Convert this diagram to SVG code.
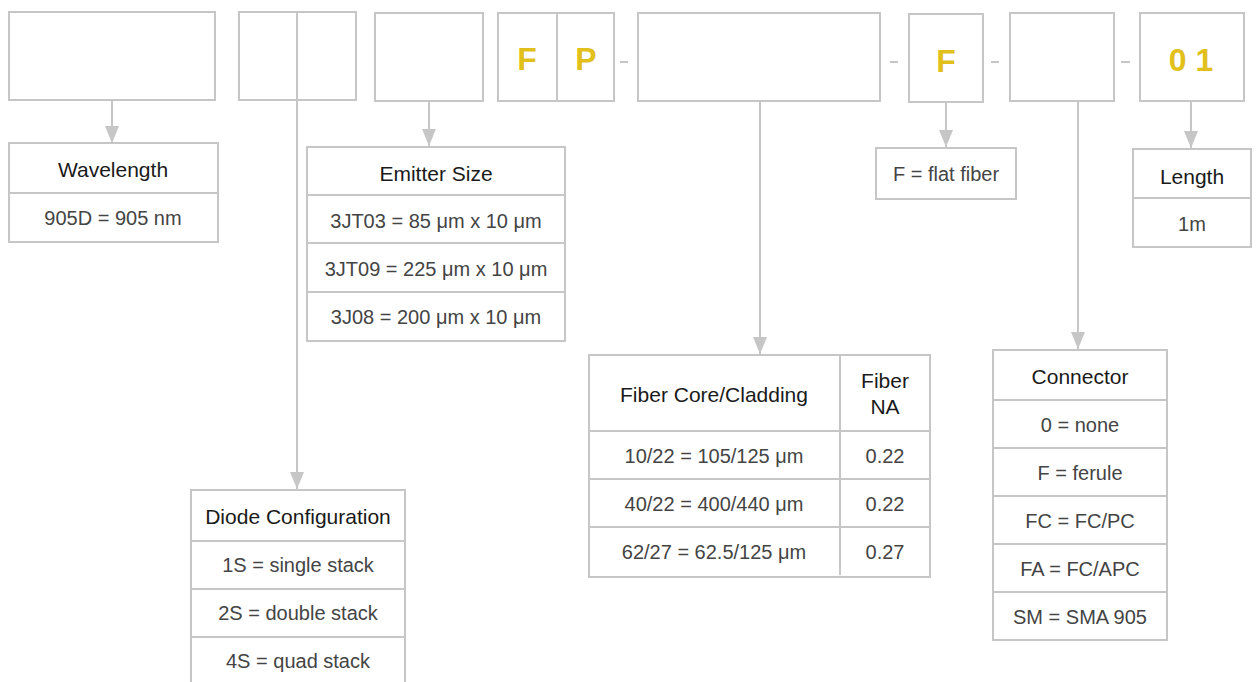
<svg xmlns="http://www.w3.org/2000/svg" width="1258" height="682" viewBox="0 0 1258 682">
<defs>
<style>
.b{fill:#fff;stroke:#c6c6c6;stroke-width:2}
.d{stroke:#c6c6c6;stroke-width:2;fill:none}
.h{font-family:"Liberation Sans",Arial,sans-serif;font-size:21px;fill:#1a1a1a;text-anchor:middle}
.v{font-family:"Liberation Sans",Arial,sans-serif;font-size:20px;fill:#444;text-anchor:middle}
.y{font-family:"Liberation Sans",Arial,sans-serif;font-size:32px;font-weight:bold;fill:#e2c01c;text-anchor:middle}
.c{stroke:#c6c6c6;stroke-width:2;fill:none}
</style>
<marker id="ah" markerUnits="userSpaceOnUse" markerWidth="18" markerHeight="16" refX="17" refY="8" orient="auto" viewBox="0 0 18 16">
<path d="M0,1 L17,8 L0,15 Z" fill="#c6c6c6"/>
</marker>
</defs>
<rect width="1258" height="682" fill="#fff"/>

<g id="code-boxes">
<g id="box-wavelength"><rect class="b" x="9" y="12" width="206" height="88"/></g>
<g id="box-diode"><rect class="b" x="239" y="12" width="117" height="88"/><line class="d" x1="297" y1="12" x2="297" y2="100"/></g>
<g id="box-emitter"><rect class="b" x="375" y="13" width="108" height="88"/></g>
<g id="box-fp"><rect class="b" x="498" y="13" width="116" height="88"/><line class="d" x1="557" y1="13" x2="557" y2="101"/>
<text class="y" x="527" y="70">F</text><text class="y" x="586" y="70">P</text></g>
<g id="box-fiber"><rect class="b" x="638" y="13" width="242" height="88"/></g>
<g id="box-f"><rect class="b" x="909" y="14" width="74" height="88"/><text class="y" x="946" y="72">F</text></g>
<g id="box-connector"><rect class="b" x="1010" y="13" width="104" height="88"/></g>
<g id="box-length"><rect class="b" x="1140" y="13" width="104" height="88"/><text class="y" x="1191" y="71">0 1</text></g>
<g id="dashes">
<line class="d" x1="620" y1="62" x2="628" y2="62"/>
<line class="d" x1="890" y1="62" x2="898" y2="62"/>
<line class="d" x1="991" y1="62" x2="999" y2="62"/>
<line class="d" x1="1121" y1="62" x2="1130" y2="62"/>
</g>
</g>

<g id="connectors">
<line class="c" x1="112" y1="100" x2="112" y2="143" marker-end="url(#ah)"/>
<line class="c" x1="297" y1="100" x2="297" y2="489" marker-end="url(#ah)"/>
<line class="c" x1="429" y1="101" x2="429" y2="146" marker-end="url(#ah)"/>
<line class="c" x1="760" y1="101" x2="760" y2="354" marker-end="url(#ah)"/>
<line class="c" x1="946" y1="102" x2="946" y2="147" marker-end="url(#ah)"/>
<line class="c" x1="1078" y1="101" x2="1078" y2="349" marker-end="url(#ah)"/>
<line class="c" x1="1191" y1="101" x2="1191" y2="148" marker-end="url(#ah)"/>
</g>

<g id="table-wavelength">
<rect class="b" x="9" y="143" width="209" height="99"/>
<line class="d" x1="9" y1="193" x2="218" y2="193"/>
<text class="h" x="113" y="177">Wavelength</text>
<text class="v" x="113" y="225">905D = 905 nm</text>
</g>

<g id="table-emitter">
<rect class="b" x="307" y="147" width="258" height="194"/>
<line class="d" x1="307" y1="195" x2="565" y2="195"/>
<line class="d" x1="307" y1="243" x2="565" y2="243"/>
<line class="d" x1="307" y1="292" x2="565" y2="292"/>
<text class="h" x="436" y="181">Emitter Size</text>
<text class="v" x="436" y="228">3JT03 = 85 μm x 10 μm</text>
<text class="v" x="436" y="276">3JT09 = 225 μm x 10 μm</text>
<text class="v" x="436" y="324">3J08 = 200 μm x 10 μm</text>
</g>

<g id="table-diode">
<rect class="b" x="191" y="490" width="214" height="200"/>
<line class="d" x1="191" y1="541" x2="405" y2="541"/>
<line class="d" x1="191" y1="589" x2="405" y2="589"/>
<line class="d" x1="191" y1="637" x2="405" y2="637"/>
<text class="h" x="298" y="524">Diode Configuration</text>
<text class="v" x="298" y="572">1S = single stack</text>
<text class="v" x="298" y="620">2S = double stack</text>
<text class="v" x="298" y="668">4S = quad stack</text>
</g>

<g id="table-fiber">
<rect class="b" x="589" y="355" width="341" height="222"/>
<line class="d" x1="589" y1="431" x2="930" y2="431"/>
<line class="d" x1="589" y1="479" x2="930" y2="479"/>
<line class="d" x1="589" y1="527" x2="930" y2="527"/>
<line class="d" x1="840" y1="355" x2="840" y2="575"/>
<text class="h" x="714" y="402">Fiber Core/Cladding</text>
<text class="h" x="885" y="388">Fiber</text>
<text class="h" x="885" y="414">NA</text>
<text class="v" x="714" y="463">10/22 = 105/125 μm</text>
<text class="v" x="714" y="511">40/22 = 400/440 μm</text>
<text class="v" x="714" y="559">62/27 = 62.5/125 μm</text>
<text class="v" x="885" y="463">0.22</text>
<text class="v" x="885" y="511">0.22</text>
<text class="v" x="885" y="559">0.27</text>
</g>

<g id="table-f">
<rect class="b" x="876" y="148" width="140" height="51"/>
<text class="v" x="946" y="181">F = flat fiber</text>
</g>

<g id="table-connector">
<rect class="b" x="993" y="350" width="174" height="290"/>
<line class="d" x1="993" y1="400" x2="1167" y2="400"/>
<line class="d" x1="993" y1="448" x2="1167" y2="448"/>
<line class="d" x1="993" y1="496" x2="1167" y2="496"/>
<line class="d" x1="993" y1="544" x2="1167" y2="544"/>
<line class="d" x1="993" y1="592" x2="1167" y2="592"/>
<text class="h" x="1080" y="384">Connector</text>
<text class="v" x="1080" y="432">0 = none</text>
<text class="v" x="1080" y="480">F = ferule</text>
<text class="v" x="1080" y="528">FC = FC/PC</text>
<text class="v" x="1080" y="576">FA = FC/APC</text>
<text class="v" x="1080" y="624">SM = SMA 905</text>
</g>

<g id="table-length">
<rect class="b" x="1133" y="149" width="118" height="98"/>
<line class="d" x1="1133" y1="198" x2="1251" y2="198"/>
<text class="h" x="1192" y="184">Length</text>
<text class="v" x="1192" y="231">1m</text>
</g>
</svg>
